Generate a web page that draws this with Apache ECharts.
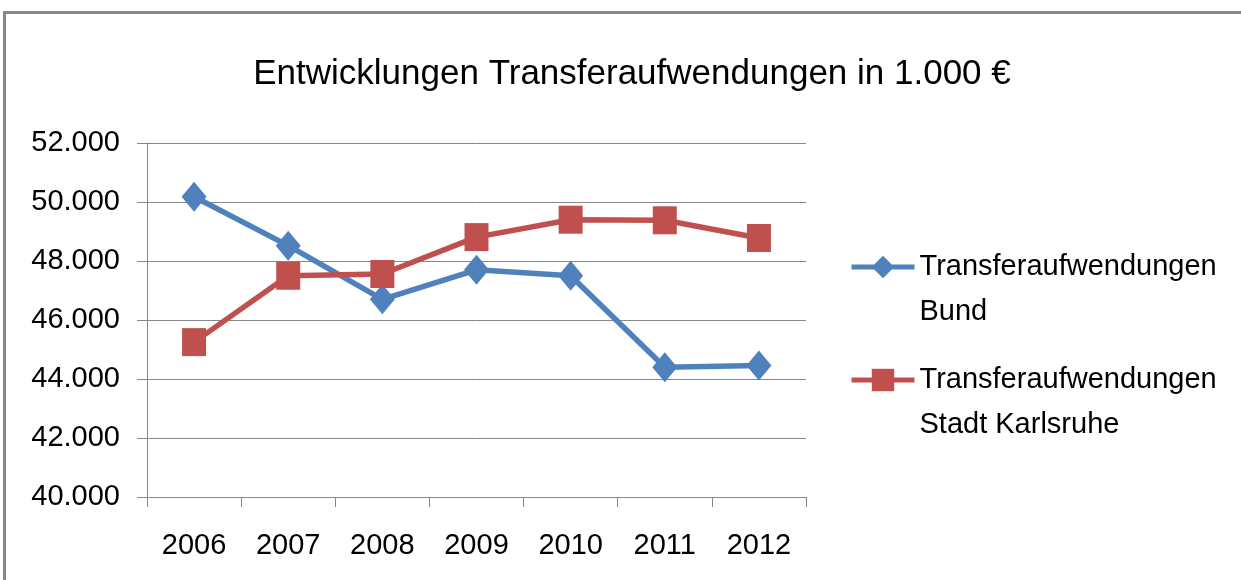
<!DOCTYPE html>
<html>
<head>
<meta charset="utf-8">
<script src="https://cdn.jsdelivr.net/npm/echarts@6/dist/echarts.min.js"></script>
<style>
html,body{margin:0;padding:0;background:#fff;overflow:hidden;}
#frame{position:absolute;left:3px;top:11px;width:3000px;height:3000px;border-left:3px solid #868686;border-top:3px solid #868686;z-index:0;}
#chart{position:absolute;left:0;top:0;width:1241px;height:580px;z-index:1;}
</style>
</head>
<body>
<div id="frame"></div>
<div id="chart"></div>
<script>
const titleText = 'Entwicklungen Transferaufwendungen in 1.000 €';
const categories = ['2006', '2007', '2008', '2009', '2010', '2011', '2012'];
const seriesNames = ['Transferaufwendungen Bund', 'Transferaufwendungen Stadt Karlsruhe'];
const legendLabels = ['Transferaufwendungen\nBund', 'Transferaufwendungen\nStadt Karlsruhe'];
const bund = [50180, 48520, 46700, 47700, 47500, 44400, 44460];
const karlsruhe = [45250, 47500, 47560, 48810, 49400, 49380, 48780];
const yMin = 40000, yMax = 52000, yStep = 2000;

const FONT = '"Liberation Sans", Arial, sans-serif';
const GRAY = '#868686';
const LH = 45;

function fmt(v) {
  const t = Math.floor(v / 1000);
  const r = String(Math.round(v % 1000)).padStart(3, '0');
  return t + '.' + r;
}

const chart = echarts.init(document.getElementById('chart'), null, {renderer: 'canvas'});
chart.setOption({
  backgroundColor: 'transparent',
  animation: false,
  title: {
    text: titleText,
    left: 627,
    top: 52,
    textAlign: 'center',
    textStyle: {fontFamily: FONT, fontSize: 35, fontWeight: 'normal', color: '#000'}
  },
  legend: {
    orient: 'vertical',
    left: 844,
    top: 194.5,
    itemWidth: 63,
    itemHeight: 28,
    itemGap: -22,
    data: seriesNames,
    lineStyle: {width: 5},
    formatter: function (name) { return '\n' + legendLabels[seriesNames.indexOf(name)]; },
    textStyle: {fontFamily: FONT, fontSize: 29, color: '#000', lineHeight: LH}
  },
  grid: {left: 147, right: 435, top: 143, bottom: 83},
  xAxis: {
    type: 'category',
    data: categories,
    boundaryGap: true,
    axisLine: {lineStyle: {color: GRAY, width: 1}},
    axisTick: {show: true, length: 10, lineStyle: {color: GRAY}},
    axisLabel: {margin: 34, fontFamily: FONT, fontSize: 29, color: '#000'},
    splitLine: {show: false}
  },
  yAxis: {
    type: 'value',
    min: yMin,
    max: yMax,
    interval: yStep,
    axisLine: {show: true, lineStyle: {color: GRAY, width: 1}},
    axisTick: {show: true, length: 10, lineStyle: {color: GRAY}},
    axisLabel: {margin: 27, fontFamily: FONT, fontSize: 29, color: '#000', formatter: fmt},
    splitLine: {show: true, lineStyle: {color: GRAY, width: 1}}
  },
  series: [
    {
      name: seriesNames[0],
      type: 'line',
      data: bund,
      symbol: 'diamond',
      symbolSize: [25, 30],
      lineStyle: {color: '#4F81BD', width: 5.5},
      itemStyle: {color: '#4F81BD'}
    },
    {
      name: seriesNames[1],
      type: 'line',
      data: karlsruhe,
      symbol: 'rect',
      symbolSize: [24, 28],
      lineStyle: {color: '#C0504D', width: 5.5},
      itemStyle: {color: '#C0504D'}
    }
  ]
});
</script>
</body>
</html>
